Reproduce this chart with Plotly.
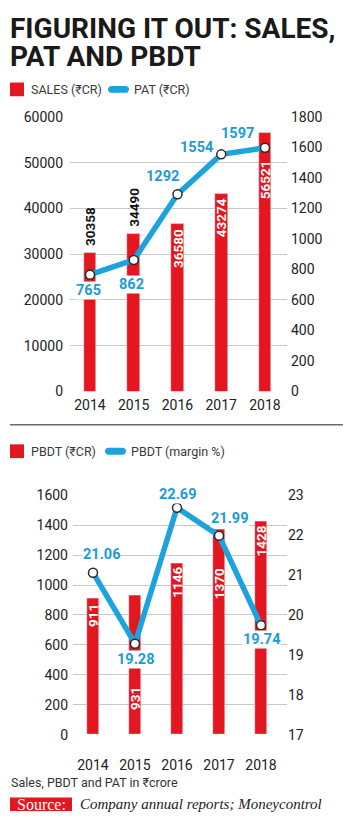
import plotly.graph_objects as go

# ---------------- data ----------------
years = ["2014", "2015", "2016", "2017", "2018"]
sales = [30358, 34490, 36580, 43274, 56521]
pat = [765, 862, 1292, 1554, 1597]
pbdt = [911, 931, 1146, 1370, 1428]
pbdt_margin = [21.06, 19.28, 22.69, 21.99, 19.74]

sales_ticks = [0, 10000, 20000, 30000, 40000, 50000, 60000]
pat_ticks = [0, 200, 400, 600, 800, 1000, 1200, 1400, 1600, 1800]
pbdt_ticks = [0, 200, 400, 600, 800, 1000, 1200, 1400, 1600]
margin_ticks = [17, 18, 19, 20, 21, 22, 23]

title_lines = ["FIGURING IT OUT: SALES,", "PAT AND PBDT"]
legend1 = ["SALES (₹CR)", "PAT (₹CR)"]
legend2 = ["PBDT (₹CR)", "PBDT (margin %)"]
footnote = "Sales, PBDT and PAT in ₹crore"
source_label = "Source:"
source_text = "Company annual reports; Moneycontrol"

# ---------------- style ----------------
W, H = 350, 825
RED = "#E4161F"
BLUE = "#1CA3DE"
LBLUE = "#1C9BD8"
GRID = "#c8c8c8"
TXT = "#222222"
SANS = "Roboto, 'Noto Sans', sans-serif"
SERIF = "'Liberation Serif', 'DejaVu Serif', serif"


def px(x):
    return x / W


def py(y):
    return 1 - y / H


fig = go.Figure()

# top chart
fig.add_trace(go.Bar(x=list(range(5)), y=sales, marker_color=RED, width=0.29,
                     xaxis="x", yaxis="y", hoverinfo="skip"))
fig.add_trace(go.Scatter(x=list(range(5)), y=pat, mode="lines+markers",
                         line=dict(color=BLUE, width=5.5),
                         marker=dict(size=9, color="white", line=dict(color="#2a2a2a", width=1.5)),
                         xaxis="x", yaxis="y2", hoverinfo="skip", cliponaxis=False))
# bottom chart
fig.add_trace(go.Bar(x=list(range(5)), y=pbdt, marker_color=RED, width=0.3,
                     xaxis="x2", yaxis="y3", hoverinfo="skip"))
fig.add_trace(go.Scatter(x=list(range(5)), y=pbdt_margin, mode="lines+markers",
                         line=dict(color=BLUE, width=5.5),
                         marker=dict(size=9, color="white", line=dict(color="#2a2a2a", width=1.5)),
                         xaxis="x2", yaxis="y4", hoverinfo="skip", cliponaxis=False))

tickfont = dict(family=SANS, size=14, color=TXT)

fig.update_layout(
    width=W, height=H, margin=dict(l=0, r=0, t=0, b=0),
    paper_bgcolor="white", plot_bgcolor="white", showlegend=False,
    bargap=0,
    xaxis=dict(domain=[px(70), px(287)], range=[-0.457, 4.503], tickvals=list(range(5)),
               ticktext=years, tickfont=tickfont, showgrid=False, zeroline=False,
               showline=False, ticks="", anchor="y", ticklabelstandoff=4),
    yaxis=dict(domain=[py(391), py(111)], range=[0, 60000], tickvals=sales_ticks,
               ticktext=[str(t) for t in sales_ticks],
               tickfont=tickfont, gridcolor=GRID, gridwidth=1, zeroline=False,
               showline=False, ticks="", anchor="x", ticklabelstandoff=6),
    yaxis2=dict(domain=[py(391), py(111)], range=[0, 1800], tickvals=pat_ticks,
                ticktext=[str(t) for t in pat_ticks],
                tickfont=tickfont, showgrid=False, zeroline=False, overlaying="y",
                side="right", anchor="x", ticks="", ticklabelstandoff=3),
    xaxis2=dict(domain=[px(73), px(287)], range=[-0.476, 4.619], tickvals=list(range(5)),
                ticktext=years, tickfont=tickfont, showgrid=False, zeroline=False,
                showline=False, ticks="", anchor="y3", ticklabelstandoff=20),
    yaxis3=dict(domain=[py(741), py(497)], range=[0, 1600], tickvals=pbdt_ticks,
                ticktext=[str(t) for t in pbdt_ticks],
                tickfont=tickfont, gridcolor=GRID, gridwidth=1, zeroline=False,
                showline=False, ticks="", anchor="x2", ticklabelstandoff=4),
    yaxis4=dict(domain=[py(741), py(497)], range=[17, 23], tickvals=margin_ticks,
                ticktext=[str(t) for t in margin_ticks],
                tickfont=tickfont, showgrid=False, zeroline=False, overlaying="y3",
                side="right", anchor="x2", ticks="", ticklabelstandoff=0),
)

ann = []
shapes = []

# title
ann.append(dict(text="<b>" + title_lines[0] + "</b>", x=px(8), y=py(21), xref="paper", yref="paper",
                xanchor="left", yanchor="middle", showarrow=False,
                font=dict(family=SANS, size=28, color="#1a1a1a")))
ann.append(dict(text="<b>" + title_lines[1] + "</b>", x=px(8), y=py(49), xref="paper", yref="paper",
                xanchor="left", yanchor="middle", showarrow=False,
                font=dict(family=SANS, size=28, color="#1a1a1a")))


def legend(ycen, labels, pill_x):
    shapes.append(dict(type="rect", xref="paper", yref="paper",
                       x0=px(10), x1=px(24), y0=py(ycen - 7), y1=py(ycen + 7),
                       fillcolor=RED, line=dict(width=0)))
    ann.append(dict(text=labels[0], x=px(29), y=py(ycen), xref="paper", yref="paper",
                    xanchor="left", yanchor="middle", showarrow=False,
                    font=dict(family=SANS, size=12.5, color="#3a3a3a")))
    # pill
    x0, x1, r = pill_x, pill_x + 21, 3.5
    k = 0.55 * r
    pts = [
        f"M{px(x0 + r)},{py(ycen - r)}",
        f"L{px(x1 - r)},{py(ycen - r)}",
        f"C{px(x1 - r + k)},{py(ycen - r)} {px(x1)},{py(ycen - k)} {px(x1)},{py(ycen)}",
        f"C{px(x1)},{py(ycen + k)} {px(x1 - r + k)},{py(ycen + r)} {px(x1 - r)},{py(ycen + r)}",
        f"L{px(x0 + r)},{py(ycen + r)}",
        f"C{px(x0 + r - k)},{py(ycen + r)} {px(x0)},{py(ycen + k)} {px(x0)},{py(ycen)}",
        f"C{px(x0)},{py(ycen - k)} {px(x0 + r - k)},{py(ycen - r)} {px(x0 + r)},{py(ycen - r)} Z",
    ]
    shapes.append(dict(type="path", xref="paper", yref="paper", path=" ".join(pts),
                       fillcolor=BLUE, line=dict(width=0)))
    ann.append(dict(text=labels[1], x=px(pill_x + 24), y=py(ycen), xref="paper", yref="paper",
                    xanchor="left", yanchor="middle", showarrow=False,
                    font=dict(family=SANS, size=12.5, color="#3a3a3a")))


legend(83, legend1, 108)
legend(452, legend2, 105)

# divider
shapes.append(dict(type="line", xref="paper", yref="paper", x0=px(10), x1=px(343),
                   y0=py(425), y1=py(425), line=dict(color="#6a6a6a", width=1.5)))

# bar labels (top)
bar_lab_top = [("out", 0), ("out", 0), ("in", -3), ("in", -3), ("in", -25)]
for i, (v, (mode, ys)) in enumerate(zip(sales, bar_lab_top)):
    if mode == "out":
        ann.append(dict(text=f"<b>{v}</b>", x=i, y=v, xref="x", yref="y", textangle=-90,
                        xanchor="center", yanchor="bottom", yshift=5, showarrow=False,
                        font=dict(family=SANS, size=13.5, color="#111")))
    else:
        ann.append(dict(text=f"<b>{v}</b>", x=i, y=v, xref="x", yref="y", textangle=-90,
                        xanchor="center", yanchor="top", yshift=ys, showarrow=False,
                        font=dict(family=SANS, size=13.5, color="white")))

# PAT labels
pat_off = [(-1, -16), (-2, -25), (-15, 18), (-25, 7), (-27, 14)]
for i, (v, (dx, dy)) in enumerate(zip(pat, pat_off)):
    ann.append(dict(text=f"<b>{v}</b>", x=i, y=v, xref="x", yref="y2", xshift=dx, yshift=dy,
                    showarrow=False, bgcolor="white", borderpad=0,
                    font=dict(family=SANS, size=14.5, color=LBLUE)))

# bar labels (bottom)
bar_lab_bot = [-3, -89, -2, -37, -3]
for i, (v, ys) in enumerate(zip(pbdt, bar_lab_bot)):
    ann.append(dict(text=f"<b>{v}</b>", x=i, y=v, xref="x2", yref="y3", textangle=-90,
                    xanchor="center", yanchor="top", yshift=ys, showarrow=False,
                    font=dict(family=SANS, size=13.5, color="white")))

# margin labels
m_off = [(9, 18), (1, -16), (0, 13), (10, 17), (0, -14)]
for i, (v, (dx, dy)) in enumerate(zip(pbdt_margin, m_off)):
    ann.append(dict(text=f"<b>{v:.2f}</b>", x=i, y=v, xref="x2", yref="y4", xshift=dx, yshift=dy,
                    showarrow=False, bgcolor="white", borderpad=0,
                    font=dict(family=SANS, size=14.5, color=LBLUE)))

# footnote and source
ann.append(dict(text=footnote, x=px(9), y=py(790), xref="paper", yref="paper",
                xanchor="left", yanchor="middle", showarrow=False,
                font=dict(family=SANS, size=12.5, color="#333")))
shapes.append(dict(type="rect", xref="paper", yref="paper", x0=px(10), x1=px(72),
                   y0=py(819), y1=py(805), fillcolor=RED, line=dict(width=0)))
ann.append(dict(text=source_label, x=px(41), y=py(812), xref="paper", yref="paper",
                xanchor="center", yanchor="middle", showarrow=False,
                font=dict(family=SERIF, size=16, color="white")))
ann.append(dict(text="<i>" + source_text + "</i>", x=px(78), y=py(812), xref="paper", yref="paper",
                xanchor="left", yanchor="middle", showarrow=False,
                font=dict(family=SERIF, size=15, color="#222")))

fig.update_layout(annotations=ann, shapes=shapes)
fig.write_html("out.html")
